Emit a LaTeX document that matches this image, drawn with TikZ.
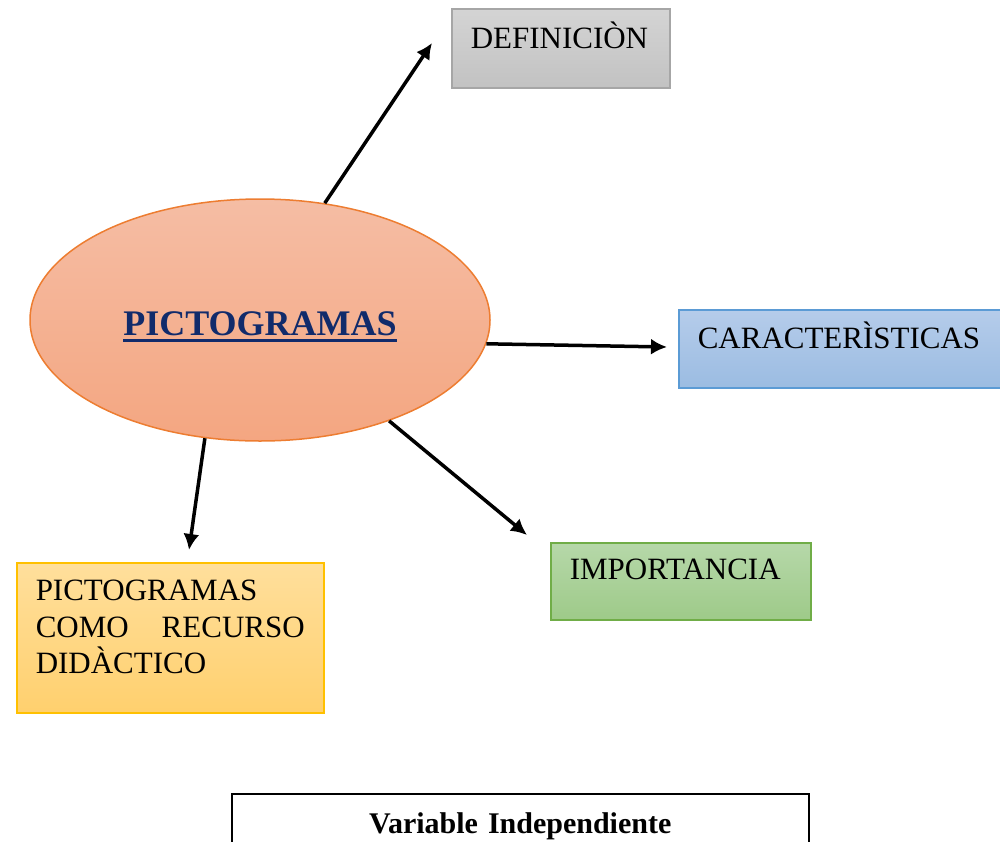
\documentclass[tikz,border=0pt]{standalone}
\usepackage{fontspec}
\setmainfont{Liberation Serif}
\usetikzlibrary{shapes.geometric,arrows.meta}

\definecolor{defbord}{HTML}{A6A6A6}
\definecolor{deftop}{HTML}{D4D4D4}
\definecolor{defbot}{HTML}{C2C2C2}
\definecolor{carbord}{HTML}{5B9BD5}
\definecolor{cartop}{HTML}{B5CCEA}
\definecolor{carbot}{HTML}{9BBCE2}
\definecolor{impbord}{HTML}{70AD47}
\definecolor{imptop}{HTML}{B6D8A9}
\definecolor{impbot}{HTML}{9ECA89}
\definecolor{recbord}{HTML}{FFC000}
\definecolor{rectop}{HTML}{FFDF9C}
\definecolor{recbot}{HTML}{FFD06E}
\definecolor{pictbord}{HTML}{ED7D31}
\definecolor{picttop}{HTML}{F5BDA4}
\definecolor{pictbot}{HTML}{F4A681}
\definecolor{pictnavy}{HTML}{112B6B}

\newcommand{\boxfont}{\fontsize{31}{36.5}\selectfont}
\newcommand{\thickul}[1]{\leavevmode\vtop{\hbox{#1}\kern4pt\hrule height 3pt}}

\begin{document}
\begin{tikzpicture}[
	x=1pt, y=-1pt,
	box/.style={ draw, line width=1.5pt, anchor=north west, inner xsep=19pt, inner ysep=0pt, align=left, font=\boxfont },
	arrow/.style={ line width=3.5pt, -{Latex[length=16pt,width=16pt]} }
]
\useasboundingbox (0,0) rectangle (1000,841);

% central ellipse
\node at (260,320) (pict) [ellipse, draw=pictbord, line width=1.5pt, top color=picttop, bottom color=pictbot,
	minimum width=460pt, minimum height=242pt, inner sep=0pt, text height=40pt, text depth=10pt,
	font=\fontsize{36}{40}\selectfont\bfseries, text=pictnavy] {\thickul{PICTOGRAMAS}};

% the four boxes
\node at (451,8) (def) [box, draw=defbord, top color=deftop, bottom color=defbot,
	text width=180pt, text height=40pt, text depth=39pt] {DEFINICIÒN};
\node at (678,309) (car) [box, draw=carbord, top color=cartop, bottom color=carbot,
	text width=292pt, text height=39pt, text depth=39pt] {CARACTERÌSTICAS};
\node at (550,542) (imp) [box, draw=impbord, top color=imptop, bottom color=impbot,
	text width=222pt, text height=37pt, text depth=40pt] {IMPORTANCIA};
\node at (16,562) (rec) [box, draw=recbord, top color=rectop, bottom color=recbot, align=justify,
	text width=269pt, text height=38pt, text depth=112pt] {PICTOGRAMAS COMO RECURSO DIDÀCTICO};

% arrows
\coordinate (tipdef) at (432,43);
\coordinate (tipcar) at (667,347);
\coordinate (tipimp) at (527,535);
\coordinate (tiprec) at (189,550);
\draw[arrow] (pict.61) to (tipdef);
\draw[arrow] (pict.-6) to (tipcar);
\draw[arrow] (pict.-38) to (tipimp);
\draw[arrow] (pict.245) to (tiprec);

% caption box
\node at (231,793) (var) [draw, line width=1.5pt, anchor=north west, inner sep=0pt, align=center,
	text width=577pt, text height=40pt, text depth=30pt, font=\fontsize{30}{34}\selectfont\bfseries] {Variable Independiente};

\end{tikzpicture}
\end{document}
